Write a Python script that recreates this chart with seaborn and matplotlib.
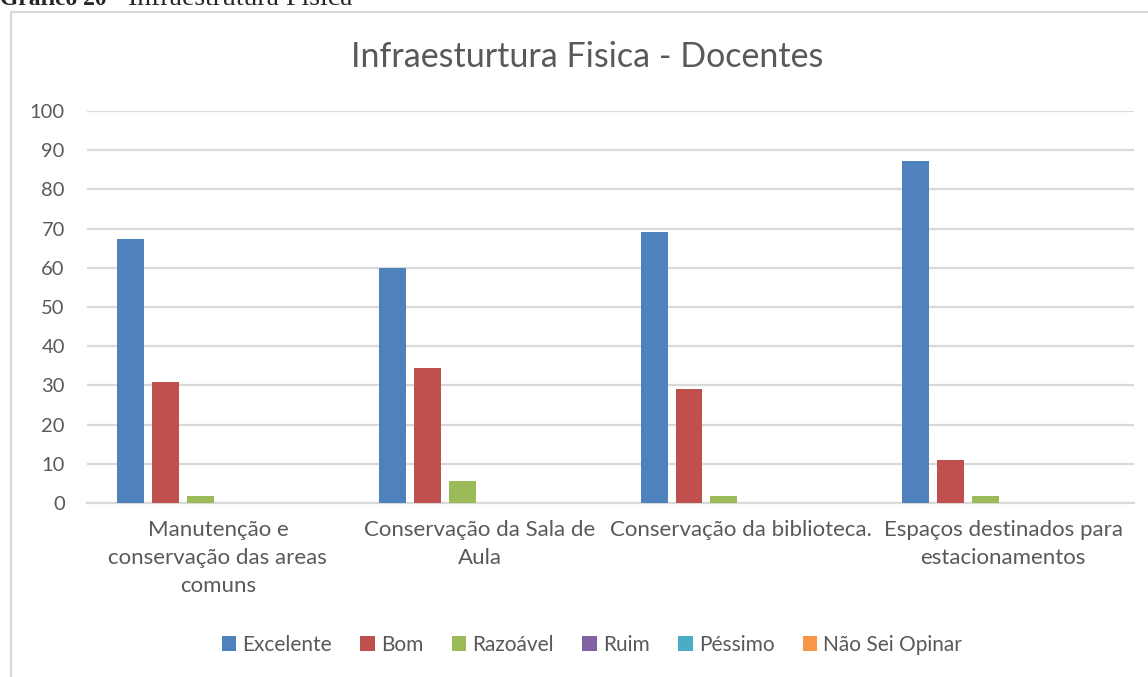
import matplotlib
matplotlib.use("Agg")
import matplotlib.pyplot as plt
import seaborn as sns
import pandas as pd
from matplotlib.patches import Rectangle, Patch

categories = [
    "Manutenção e\nconservação das areas\ncomuns",
    "Conservação da Sala de\nAula",
    "Conservação da biblioteca.",
    "Espaços destinados para\nestacionamentos",
]
series = ["Excelente", "Bom", "Razoável", "Ruim", "Péssimo", "Não Sei Opinar"]
excelente = [67.3, 60.0, 69.1, 87.3]
bom = [30.9, 34.5, 29.1, 10.9]
razoavel = [1.8, 5.5, 1.8, 1.8]
ruim = [0, 0, 0, 0]
pessimo = [0, 0, 0, 0]
nao_sei = [0, 0, 0, 0]
colors = ["#4F81BD", "#C0504D", "#9BBB59", "#8064A2", "#4BACC6", "#F79646"]
yticks = list(range(0, 101, 10))

values = [excelente, bom, razoavel, ruim, pessimo, nao_sei]
rows = []
for s, vals in zip(series, values):
    for c, v in zip(categories, vals):
        rows.append({"Categoria": c, "Serie": s, "Valor": v})
df = pd.DataFrame(rows)

sns.set_theme(style="white")
plt.rcParams["font.family"] = ["Lato", "DejaVu Sans"]
text_color = "#595959"
grid_color = "#D9D9D9"

W, H = 1148, 677
fig = plt.figure(figsize=(W / 100, H / 100), dpi=100)
ax = fig.add_axes([87 / W, 1 - 503 / H, (1134 - 87) / W, (503 - 111) / H])

sns.barplot(data=df, x="Categoria", y="Valor", hue="Serie", order=categories,
            hue_order=series, palette=colors, saturation=1, width=0.8, gap=0.23,
            linewidth=0, errorbar=None, ax=ax, legend=False, zorder=3)

ax.set_ylim(0, 100)
ax.set_xlim(-0.5, 3.5)
ax.set_yticks(yticks)
ax.set_yticklabels([str(t) for t in yticks])
ax.yaxis.grid(True, color=grid_color, linewidth=1.6, zorder=0)
ax.set_axisbelow(True)
for side in ["top", "right", "left"]:
    ax.spines[side].set_visible(False)
ax.spines["bottom"].set_color(grid_color)
ax.spines["bottom"].set_linewidth(1.6)
ax.set_xlabel("")
ax.set_ylabel("")
ax.tick_params(axis="y", length=0, pad=16, labelsize=14.5, labelcolor=text_color)
ax.tick_params(axis="x", length=0, pad=12, labelsize=16, labelcolor=text_color)
for lbl in ax.get_xticklabels():
    lbl.set_linespacing(1.5)

fig.text(587 / W, 1 - 57 / H, "Infraesturtura Fisica - Docentes", ha="center",
         va="center", fontsize=24.5, color=text_color)

handles = [Patch(facecolor=c, edgecolor="none", label=s) for c, s in zip(colors, series)]
leg = fig.legend(handles=handles, loc="center", bbox_to_anchor=(592 / W, 1 - 645 / H),
                 ncol=6, frameon=False, fontsize=15, handlelength=0.7,
                 handleheight=0.7, handletextpad=0.3, columnspacing=1.35)
for t in leg.get_texts():
    t.set_color(text_color)

# outer chart frame
fig.patches.append(Rectangle((11 / W, -0.1), 1.2, 1 - 12 / H + 0.1,
                             transform=fig.transFigure, fill=False,
                             edgecolor=grid_color, linewidth=1.5))

# caption (cut off at the top, as in the source page)
cap_y = 1 - 5 / H
fig.text(0.0, cap_y, "Gráfico 20", ha="left", va="baseline", fontsize=17,
         fontweight="bold", family=["Liberation Serif", "DejaVu Serif"])
fig.text(100 / W, cap_y, "–  Infraestrutura Física", ha="left", va="baseline",
         fontsize=20, family=["Liberation Serif", "DejaVu Serif"])

fig.savefig("out.png", dpi=100)
